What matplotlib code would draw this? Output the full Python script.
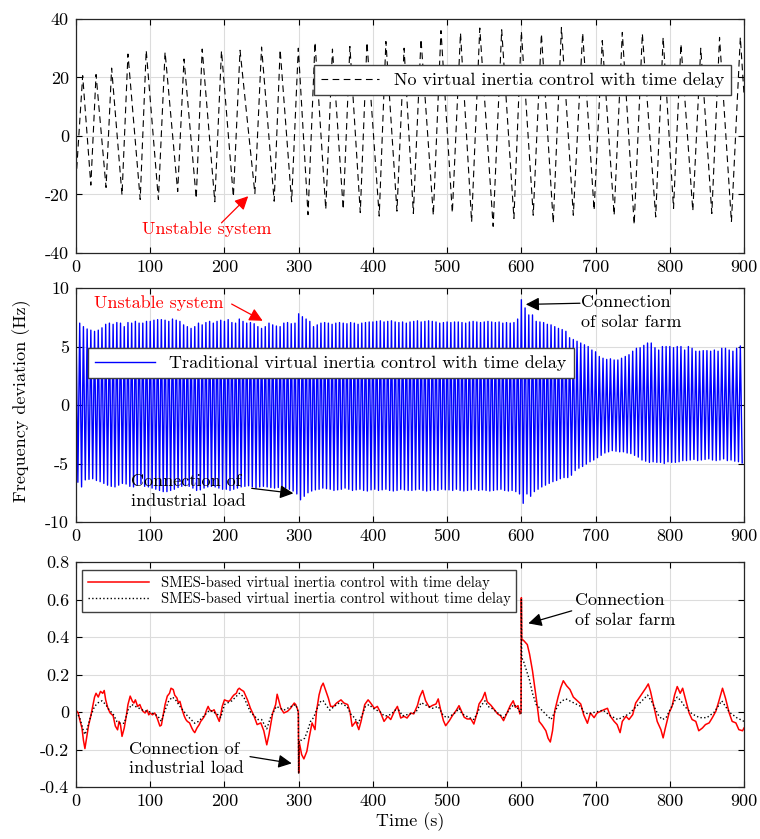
import numpy as np
import matplotlib
matplotlib.use("Agg")
import matplotlib.pyplot as plt

plt.rcParams['font.family'] = ['cmr10', 'DejaVu Serif']
plt.rcParams['mathtext.fontset'] = 'cm'
plt.rcParams['axes.unicode_minus'] = False
plt.rcParams['axes.formatter.use_mathtext'] = False

# ---- top panel: no virtual inertia control (extrema)
top_t = [0, 9, 20, 27, 40.5, 48, 62, 70, 86.5, 94.6, 111, 120, 137, 145.5, 162, 170,
         187, 196, 212, 221, 241, 250, 267, 275, 290.5, 299.5, 312.6, 322, 336.5, 345.5,
         360, 369, 383, 392, 408.5, 417.5, 432.4, 442, 454.5, 464.8, 481.4, 491.7, 507,
         518, 533, 544, 562, 573.5, 590, 600, 616, 627, 643, 654, 670, 682.6, 698, 709,
         725, 736, 752, 763, 781, 791, 805, 815, 831, 841.7, 856.6, 867, 883, 895, 900]
top_f = [-15, 20.6, -16.8, 21, -17.6, 23.2, -20.2, 28, -21.7, 29.3, -21.7, 28.7, -19, 26.3,
         -21.4, 29.7, -22.5, 29.1, -20.8, 29.3, -19.7, 30.4, -22.3, 29.5, -22.5, 30, -26.9,
         32, -25.1, 29.7, -25.1, 30.6, -26.2, 32, -27.4, 32.3, -25.7, 30, -26.5, 33.1, -27.1,
         36, -26.3, 35.2, -29.4, 36.9, -30.9, 36.3, -28.2, 35.8, -27.1, 34.9, -29.8, 37.1,
         -27.1, 35.2, -25.4, 32.6, -27.1, 35.4, -30.3, 35, -27.7, 33.7, -24.8, 31.4, -25.6,
         30, -26.5, 33.7, -29.4, 33.7, 14]

# ---- middle panel: traditional VIC, peak / trough of every 5 s cycle
blue_upper = [
    6.9, 7.0, 6.7, 6.5, 6.4, 6.3, 6.4, 6.6, 6.9, 7.0, 6.9, 7.05, 7.0, 6.7, 7.05, 7.0, 7.15, 7.0, 7.0, 7.15,
    7.15, 7.25, 7.3, 7.3, 7.25, 7.15, 7.35, 7.25, 7.15, 6.85, 6.7, 6.55, 6.7, 7.0, 6.85, 7.05, 7.15, 7.0, 7.15, 7.25,
    7.15, 7.3, 7.05, 7.0, 7.35, 7.15, 7.0, 7.05, 6.95, 6.7, 6.55, 6.7, 7.0, 6.85, 6.75, 6.7, 7.0, 7.05, 6.95, 7.0,
    7.8, 7.55, 7.35, 7.15, 6.7, 6.85, 7.0, 7.05, 7.0, 6.9, 7.0, 7.05, 7.0, 6.95, 7.05, 7.0, 6.9, 7.0, 7.05, 7.1,
    7.1, 7.15, 7.2, 7.1, 7.15, 7.2, 7.1, 7.05, 7.1, 7.0, 7.1, 7.15, 7.2, 7.1, 7.15, 7.2, 7.15, 7.1, 7.0, 7.05,
    7.1, 7.05, 7.1, 7.1, 7.05, 7.0, 7.1, 7.15, 7.1, 7.05, 7.1, 7.15, 7.1, 7.05, 7.1, 7.0, 7.05, 7.0, 7.05, 7.35,
    9.0, 8.3, 7.7, 7.7, 7.15, 7.1, 7.05, 6.9, 6.85, 6.7, 6.55, 6.45, 6.3, 5.75, 5.6, 5.45, 5.3, 5.15, 5.0, 4.7,
    4.55, 4.15, 4.0, 3.9, 3.95, 3.85, 3.85, 4.0, 4.15, 4.3, 4.6, 4.85, 4.9, 5.1, 5.3, 5.3, 4.9, 4.7, 5.0, 5.0,
    5.0, 4.9, 5.0, 5.0, 4.7, 5.0, 4.85, 4.6, 4.6, 4.65, 4.65, 4.6, 4.7, 4.6, 4.85, 4.85, 4.7, 4.6, 4.85, 5.05]
blue_lower = [
    -6.6, -7.0, -6.4, -6.35, -6.3, -6.45, -6.55, -6.7, -6.85, -6.95, -7.0, -6.85, -6.7, -6.75, -6.95, -7.0, -6.85, -6.75, -6.95, -7.0,
    -7.1, -7.2, -7.3, -7.4, -7.4, -7.3, -7.2, -7.05, -6.95, -6.9, -6.95, -7.1, -7.3, -7.25, -7.1, -7.0, -6.95, -7.0, -7.1, -7.2,
    -7.2, -7.3, -7.2, -7.1, -7.0, -6.95, -6.9, -7.0, -7.1, -7.0, -6.95, -7.0, -7.05, -7.1, -7.05, -7.0, -7.1, -7.2, -7.35, -7.6,
    -8.1, -7.8, -7.5, -7.35, -7.25, -7.2, -7.1, -7.15, -7.2, -7.3, -7.25, -7.2, -7.1, -7.2, -7.3, -7.25, -7.2, -7.3, -7.35, -7.25,
    -7.2, -7.3, -7.25, -7.2, -7.3, -7.35, -7.3, -7.2, -7.25, -7.3, -7.3, -7.25, -7.2, -7.3, -7.35, -7.3, -7.25, -7.3, -7.2, -7.25,
    -7.25, -7.3, -7.2, -7.3, -7.35, -7.3, -7.25, -7.2, -7.3, -7.25, -7.3, -7.35, -7.3, -7.25, -7.2, -7.3, -7.35, -7.3, -7.4, -7.6,
    -8.4, -7.6, -7.8, -7.4, -7.2, -7.0, -6.85, -6.7, -6.55, -6.45, -6.3, -6.2, -6.2, -6.0, -5.6, -5.4, -5.25, -5.05, -4.85, -4.7,
    -4.5, -4.3, -4.1, -4.0, -3.9, -3.95, -4.0, -4.0, -4.1, -4.15, -4.3, -4.45, -4.7, -4.8, -4.9, -4.85, -4.9, -4.9, -5.0, -4.85,
    -4.9, -4.9, -4.85, -4.75, -4.75, -4.7, -4.65, -4.75, -4.7, -4.65, -4.6, -4.7, -4.75, -4.7, -4.6, -4.75, -4.7, -4.8, -4.85, -4.95]
blue_period = 5.0

# ---- bottom panel: SMES-based VIC
red_t = [0, 3, 5, 8, 10, 12, 15, 17, 20, 22, 25, 27, 30, 33, 36, 38, 40, 43, 46, 50, 53, 56, 58,
         60, 62, 65, 68, 70, 73, 76, 78, 80, 83, 86, 88, 90, 93, 96, 98, 100, 103, 106, 108,
         110, 113, 115, 118, 120, 123, 126, 128, 131, 133, 136, 138, 140, 143, 146, 148, 150,
         153, 156, 158, 160, 163, 166, 168, 170, 173, 176, 178, 180, 183, 186, 188, 190, 193,
         195, 197, 200, 203, 206, 208, 211, 213, 216, 218, 220, 222, 226, 231, 235, 240, 244,
         249, 253, 257, 260, 265, 269, 271, 276, 280, 285, 289, 294, 296, 298, 299.5, 300,
         300.5, 304, 307, 311, 314, 318, 322, 324, 327.5, 330.5, 333, 336, 340, 343, 347, 351,
         357, 361, 366, 369, 372, 377, 381, 384, 389, 393.5, 397, 402, 406, 410.5, 415, 420,
         424, 429, 433, 437.5, 442, 446, 451, 455, 460, 463, 467, 471, 476, 480, 485, 488, 491,
         495, 498, 503, 507, 512, 516, 518, 523, 527, 532, 536, 540, 543, 547.5, 551, 554, 559,
         563, 568, 572, 576, 580, 585, 589, 592, 595.5, 598, 599.6, 600, 600.5, 603.5, 608,
         611, 615, 618, 621, 624, 628, 633, 636, 639, 642, 645, 649.5, 653, 656.5, 661, 665.5,
         670, 675.4, 680, 684, 689, 693, 698, 702, 707, 711, 716, 720, 725, 729, 733, 736, 741,
         745, 750, 754, 758.5, 763, 767.5, 771, 774, 779, 783, 788, 791, 794, 799, 803, 806.5,
         810, 814, 817.3, 821.4, 826, 830, 835, 839, 844, 848, 853, 857, 862, 866, 871, 875,
         880, 884, 889, 893, 898, 900]
red_f = [0.01, -0.005, -0.04, -0.085, -0.15, -0.195, -0.12, -0.07, -0.02, 0.02, 0.08, 0.10,
         0.08, 0.11, 0.10, 0.115, 0.065, 0.02, -0.005, -0.02, -0.075, -0.095, -0.05, -0.07,
         -0.13, -0.085, -0.015, 0.04, 0.085, 0.057, 0.048, 0.065, 0.03, 0.04, 0.02, 0.005,
         -0.005, 0.01, -0.015, -0.005, -0.015, -0.005, -0.02, -0.04, -0.075, -0.07, -0.005,
         0.04, 0.085, 0.10, 0.127, 0.12, 0.09, 0.075, 0.048, 0.057, 0.012, -0.023, -0.04,
         -0.05, -0.058, -0.085, -0.10, -0.11, -0.085, -0.067, -0.05, -0.04, -0.023, 0.012,
         0.03, 0.012, 0.004, 0.012, -0.005, -0.023, -0.05, -0.014, 0.03, 0.065, 0.06, 0.057,
         0.065, 0.083, 0.092, 0.10, 0.12, 0.127, 0.12, 0.11, 0.065, 0.02, -0.023, -0.067,
         -0.058, -0.10, -0.175, -0.12, -0.005, 0.04, 0.095, 0.02, -0.005, 0.004, 0.02, 0.048,
         0.04, 0.02, 0.0, -0.324, -0.156, -0.227, -0.25, -0.21, -0.14, -0.058, -0.094, 0.004,
         0.092, 0.136, 0.154, 0.12, 0.074, 0.03, 0.03, 0.048, 0.065, 0.048, 0.04, 0.004,
         -0.076, -0.05, -0.094, -0.05, 0.04, 0.065, 0.048, 0.02, 0.03, -0.005, -0.05, -0.023,
         -0.04, 0.004, 0.03, -0.032, -0.023, -0.032, -0.005, -0.01, 0.035, 0.08, 0.115, 0.06,
         0.025, 0.035, 0.043, 0.07, 0.016, -0.046, -0.073, -0.046, -0.02, 0.007, 0.034, 0.016,
         -0.028, -0.037, -0.037, -0.064, -0.01, 0.043, 0.07, 0.105, 0.055, 0.036, 0.016,
         -0.01, -0.02, -0.046, -0.01, 0.034, 0.06, 0.025, 0.034, -0.01, 0.0, 0.61, 0.39, 0.38,
         0.36, 0.31, 0.22, 0.135, 0.046, -0.05, -0.07, -0.10, -0.14, -0.16, -0.10, 0.007,
         0.08, 0.13, 0.167, 0.14, 0.12, 0.08, 0.06, 0.043, -0.015, -0.06, -0.005, -0.03,
         -0.005, 0.004, 0.012, 0.02, -0.023, -0.05, -0.067, -0.11, -0.05, -0.023, -0.04,
         -0.014, 0.048, 0.074, 0.10, 0.127, 0.15, 0.11, 0.02, -0.05, -0.094, -0.138, -0.085,
         -0.005, 0.03, 0.092, 0.136, 0.10, 0.127, 0.065, -0.005, -0.04, -0.05, -0.10, -0.085,
         -0.067, -0.058, -0.032, 0.004, 0.057, 0.127, 0.074, -0.005, -0.05, -0.058, -0.094,
         -0.10, -0.085]

black_t = [0, 5, 10, 12, 15, 20, 25, 30, 35, 40, 45, 50, 55, 60, 65, 70, 75, 80, 90, 100,
           110, 115, 120, 125, 130, 135, 140, 150, 155, 160, 165, 170, 180, 190, 195, 200,
           210, 220, 226, 235, 240, 245, 250, 257, 262, 270, 275, 280, 290, 296, 299.5, 300,
           300.5, 304, 308, 312, 316, 320, 325, 330, 333, 338, 342, 348, 355, 360, 365, 370,
           375, 380, 385, 390, 395, 400, 410, 415, 420, 425, 430, 435, 440, 450, 458, 465,
           470, 475, 480, 488, 495, 500, 505, 512, 516, 520, 530, 536, 540, 545, 551, 555,
           560, 570, 576, 580, 585, 590, 595, 599.6, 600, 600.5, 603, 607, 611, 615, 620,
           625, 630, 635, 640, 645, 650, 655, 660, 665, 670, 680, 684, 690, 700, 710, 720,
           730, 735, 745, 755, 765, 770, 775, 780, 785, 790, 795, 800, 805, 810, 815, 820,
           830, 840, 850, 860, 865, 870, 875, 880, 890, 900]
black_f = [0.0, -0.03, -0.10, -0.12, -0.09, -0.02, 0.03, 0.05, 0.06, 0.04, 0.01, -0.01,
           -0.05, -0.06, -0.06, 0.01, 0.04, 0.03, 0.01, 0.0, -0.02, -0.05, 0.01, 0.06, 0.08,
           0.06, 0.03, -0.02, -0.04, -0.06, -0.05, -0.03, 0.01, -0.01, -0.03, 0.04, 0.06,
           0.10, 0.08, 0.0, -0.02, -0.04, -0.04, -0.09, -0.03, 0.03, 0.02, 0.01, 0.03, 0.04,
           0.0, -0.33, -0.15, -0.15, -0.14, -0.10, -0.05, -0.03, 0.02, 0.06, 0.06, 0.03, 0.01,
           0.03, 0.05, 0.04, 0.03, -0.01, -0.03, -0.06, -0.02, 0.03, 0.04, 0.02, 0.0, -0.02,
           -0.02, -0.01, 0.01, 0.01, -0.02, -0.01, 0.0, 0.05, 0.04, 0.03, 0.02, 0.03, -0.02,
           -0.03, -0.02, 0.0, 0.02, -0.01, -0.03, -0.04, -0.01, 0.03, 0.06, 0.03, 0.02, -0.01,
           -0.03, -0.01, 0.02, 0.04, 0.02, -0.01, 0.6, 0.29, 0.27, 0.22, 0.17, 0.10, 0.04,
           0.02, 0.0, -0.02, -0.04, 0.0, 0.04, 0.06, 0.07, 0.06, 0.05, 0.03, 0.0, -0.01, 0.0,
           0.01, -0.02, -0.04, -0.03, -0.01, 0.03, 0.07, 0.09, 0.06, 0.02, -0.02, -0.04,
           -0.03, 0.01, 0.05, 0.08, 0.06, 0.03, -0.01, -0.03, -0.03, 0.0, 0.03, 0.06, 0.03,
           0.0, -0.03, -0.05]

x_ticks = np.arange(0, 901, 100)

fig = plt.figure(figsize=(7.6, 8.39), dpi=100)
ax1 = fig.add_axes([0.1, 0.6985, 0.879, 0.2789])
ax2 = fig.add_axes([0.1, 0.3778, 0.879, 0.2789])
ax3 = fig.add_axes([0.1, 0.062, 0.879, 0.268])

FS = 13


def style(ax, yticks):
    ax.set_xlim(0, 900)
    ax.set_xticks(x_ticks)
    ax.set_yticks(yticks)
    ax.set_ylim(yticks[0], yticks[-1])
    ax.grid(True, color='#dcdcdc', lw=0.8)
    ax.set_axisbelow(True)
    ax.tick_params(direction='in', top=True, right=True, length=4, width=0.8,
                   labelsize=FS, pad=5)
    for s in ax.spines.values():
        s.set_linewidth(0.9)
        s.set_color('#262626')


def arrow(ax, head, tail, color):
    ax.annotate('', xy=head, xytext=tail,
                arrowprops=dict(arrowstyle='-|>', color=color, lw=0.9,
                                mutation_scale=20, shrinkA=0, shrinkB=0))


leg_kw = dict(fancybox=False, framealpha=1, edgecolor='#404040', borderaxespad=0)

# top
ax1.plot(top_t, top_f, color='black', lw=0.8, dashes=(6, 4),
         label='No virtual inertia control with time delay')
style(ax1, [-40, -20, 0, 20, 40])
lg = ax1.legend(loc='upper right', bbox_to_anchor=(0.9805, 0.803), fontsize=FS,
                handlelength=3.2, **leg_kw)
lg.get_frame().set_linewidth(1.0)
ax1.text(176, -32, 'Unstable system', color='red', fontsize=FS, ha='center', va='center')
arrow(ax1, (232, -20.6), (196, -29.7), 'red')

# middle
t_up = np.arange(len(blue_upper)) * blue_period
bx = np.empty(2 * len(t_up))
by = np.empty(2 * len(t_up))
bx[0::2] = t_up
bx[1::2] = t_up + blue_period / 2
by[0::2] = blue_upper
by[1::2] = blue_lower
ax2.plot(bx, by, color='blue', lw=1.0,
         label='Traditional virtual inertia control with time delay')
style(ax2, [-10, -5, 0, 5, 10])
lg = ax2.legend(loc='upper left', bbox_to_anchor=(0.018, 0.744), fontsize=FS,
                handlelength=3.3, **leg_kw)
lg.get_frame().set_linewidth(1.0)
ax2.text(111, 8.7, 'Unstable system', color='red', fontsize=FS, ha='center', va='center')
arrow(ax2, (251.5, 7.2), (209.7, 8.63), 'red')
ax2.text(681, 7.9, 'Connection\nof solar farm', fontsize=FS, ha='left', va='center',
         linespacing=1.35)
arrow(ax2, (606, 8.6), (679, 8.7), 'black')
ax2.text(73.7, -7.35, 'Connection of\nindustrial load', fontsize=FS, ha='left',
         va='center', linespacing=1.35)
arrow(ax2, (292.8, -7.55), (236.7, -7.12), 'black')
fig.text(0.029, 0.522, 'Frequency deviation (Hz)', rotation=90, fontsize=FS,
         ha='center', va='center')

# bottom
ax3.plot(red_t, red_f, color='red', lw=1.1,
         label='SMES-based virtual inertia control with time delay')
ax3.plot(black_t, black_f, color='black', lw=1.0, linestyle=':',
         label='SMES-based virtual inertia control without time delay')
style(ax3, [-0.4, -0.2, 0, 0.2, 0.4, 0.6, 0.8])
ax3.set_yticklabels(['-0.4', '-0.2', '0', '0.2', '0.4', '0.6', '0.8'])
lg = ax3.legend(loc='upper left', bbox_to_anchor=(0.009, 0.964), fontsize=10.5,
                handlelength=4.2, labelspacing=0.1, **leg_kw)
lg.get_frame().set_linewidth(1.0)
ax3.text(672, 0.544, 'Connection\nof solar farm', fontsize=FS, ha='left', va='center',
         linespacing=1.35)
arrow(ax3, (609.4, 0.473), (667.8, 0.54), 'black')
ax3.text(71.8, -0.25, 'Connection of\nindustrial load', fontsize=FS, ha='left',
         va='center', linespacing=1.35)
arrow(ax3, (290.6, -0.274), (234.4, -0.238), 'black')
ax3.set_xlabel('Time (s)', fontsize=FS, labelpad=2)

fig.savefig('out.png', dpi=100)
